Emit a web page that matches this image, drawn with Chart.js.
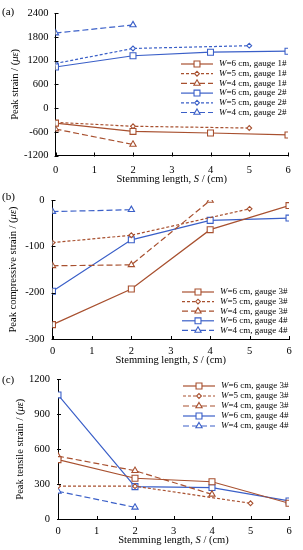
<!DOCTYPE html>
<html>
<head>
<meta charset="utf-8">
<script src="https://cdn.jsdelivr.net/npm/chart.js@4/dist/chart.umd.min.js"></script>
<style>
  body { margin: 0; background: #fff; }
  .panel { position: absolute; left: 0; }
  canvas { display: block; }
</style>
</head>
<body>
<div class="panel" style="top:0px"><canvas id="chartA" width="303" height="184"></canvas></div>
<div class="panel" style="top:184px"><canvas id="chartB" width="303" height="181"></canvas></div>
<div class="panel" style="top:365px"><canvas id="chartC" width="303" height="185"></canvas></div>
<script>
// ---- data ----
const stemming = [0, 1, 2, 3, 4, 5, 6];

// (a) peak strain
const aW6g1 = [{x:0,y:-380},{x:2,y:-590},{x:4,y:-630},{x:6,y:-680}];
const aW5g1 = [{x:0,y:-360},{x:2,y:-460},{x:5,y:-505}];
const aW4g1 = [{x:0,y:-530},{x:2,y:-920}];
const aW6g2 = [{x:0,y:1040},{x:2,y:1325},{x:4,y:1415},{x:6,y:1440}];
const aW5g2 = [{x:0,y:1130},{x:2,y:1510},{x:5,y:1580}];
const aW4g2 = [{x:0,y:1900},{x:2,y:2105}];
const aTicks = [-1200, -600, 0, 600, 1200, 1800, 2400];

// (b) peak compressive strain
const bW6g3 = [{x:0,y:-269},{x:2,y:-192},{x:4,y:-64},{x:6,y:-12}];
const bW5g3 = [{x:0,y:-92},{x:2,y:-76},{x:5,y:-19}];
const bW4g3 = [{x:0,y:-142},{x:2,y:-140},{x:4,y:-1}];
const bW6g4 = [{x:0,y:-197},{x:2,y:-86},{x:4,y:-44},{x:6,y:-39}];
const bW4g4 = [{x:0,y:-25},{x:2,y:-21}];
const bTicks = [-300, -200, -100, 0];

// (c) peak tensile strain
const cW6g3 = [{x:0,y:510},{x:2,y:350},{x:4,y:320},{x:6,y:135}];
const cW5g3 = [{x:0,y:282},{x:2,y:282},{x:5,y:135}];
const cW4g3 = [{x:0,y:540},{x:2,y:415},{x:4,y:212}];
const cW6g4 = [{x:0,y:1066},{x:2,y:278},{x:4,y:270},{x:6,y:155}];
const cW4g4 = [{x:0,y:238},{x:2,y:100}];
const cTicks = [0, 300, 600, 900, 1200];

const BROWN = '#a8502f';
const BLUE = '#3a5fc8';
const SERIF = '"Liberation Serif", "DejaVu Serif", serif';

function ds(label, data, color, style) {
  const dash = style.kind === 'solid' ? [] : style.kind === 'short' ? [3, 2] : [6, 3];
  return {
    label: label, data: data,
    borderColor: color, backgroundColor: '#fff',
    borderWidth: 1.2, borderDash: dash,
    pointStyle: style.point, pointRadius: style.r,
    pointBorderColor: color, pointBackgroundColor: '#fff', pointBorderWidth: 1.1,
    tension: 0, fill: false
  };
}
const SOLID = {kind: 'solid', point: 'rect', r: 4.2};
const SHORT = {kind: 'short', point: 'rectRot', r: 2.4};
const LONG = {kind: 'long', point: 'triangle', r: 3.6};

// draw a string made of [text, italic] runs
function richText(ctx, runs, x, y, size, align) {
  let total = 0;
  runs.forEach(r => { ctx.font = (r[1] ? 'italic ' : '') + size + 'px ' + SERIF; total += ctx.measureText(r[0]).width; });
  let cx = align === 'center' ? x - total / 2 : x;
  ctx.textAlign = 'left';
  ctx.textBaseline = 'middle';
  runs.forEach(r => {
    ctx.font = (r[1] ? 'italic ' : '') + size + 'px ' + SERIF;
    ctx.fillText(r[0], cx, y);
    cx += ctx.measureText(r[0]).width;
  });
}

const decor = {
  id: 'decor',
  afterDraw(chart, args, o) {
    const ctx = chart.ctx;
    const xs = chart.scales.x, ys = chart.scales.y;
    ctx.save();
    ctx.strokeStyle = '#000';
    ctx.lineWidth = 1;
    // tick marks crossing the axes
    ctx.beginPath();
    xs.ticks.forEach(t => {
      const px = Math.round(xs.getPixelForValue(t.value)) + 0.5;
      ctx.moveTo(px, ys.bottom - 3); ctx.lineTo(px, ys.bottom + 1);
    });
    ys.ticks.forEach(t => {
      const py = Math.round(ys.getPixelForValue(t.value)) + 0.5;
      ctx.moveTo(xs.left - 1, py); ctx.lineTo(xs.left + 3, py);
    });
    ctx.stroke();
    ctx.fillStyle = '#000';
    // panel letter
    ctx.font = '11px ' + SERIF;
    ctx.textAlign = 'left'; ctx.textBaseline = 'middle';
    ctx.fillText(o.letter, 2, o.letterY);
    // x title
    richText(ctx, [['Stemming length, ', false], ['S', true], [' / (cm)', false]],
      (xs.left + xs.right) / 2, o.xTitleY, 10.5, 'center');
    // y title
    ctx.save();
    ctx.translate(o.yTitleX, (ys.top + ys.bottom) / 2);
    ctx.rotate(-Math.PI / 2);
    richText(ctx, [[o.yTitle + ' / (', false], ['με', true], [')', false]], 0, 0, 10.5, 'center');
    ctx.restore();
    // legend
    chart.data.datasets.forEach((d, i) => {
      const y = o.legY + i * o.legStep;
      ctx.save();
      ctx.strokeStyle = d.borderColor;
      ctx.lineWidth = 1.2;
      ctx.setLineDash(d.borderDash);
      ctx.beginPath();
      ctx.moveTo(o.legX, y); ctx.lineTo(o.legX + 32, y);
      ctx.stroke();
      ctx.setLineDash([]);
      ctx.fillStyle = '#fff';
      ctx.lineWidth = 1.1;
      Chart.helpers.drawPoint(ctx, {pointStyle: d.pointStyle, radius: d.pointRadius, rotation: 0, borderWidth: 1.1}, o.legX + 16, y);
      ctx.restore();
      const m = d.label.match(/^W(=.*)$/);
      ctx.fillStyle = '#000';
      richText(ctx, [['W', true], [m[1], false]], o.legX + 38, y, 9, 'left');
    });
    ctx.restore();
  }
};

function makeChart(id, datasets, yMin, yMax, yTicks, lay, deco) {
  return new Chart(document.getElementById(id), {
    type: 'line',
    data: {datasets: datasets},
    options: {
      responsive: false, animation: false,
      layout: {padding: {top: lay.top, right: lay.right, left: 0, bottom: 0}},
      plugins: {legend: {display: false}, tooltip: {enabled: false}, decor: deco},
      scales: {
        x: {
          type: 'linear', min: 0, max: 6,
          afterBuildTicks: s => { s.ticks = stemming.map(v => ({value: v})); },
          afterFit: s => { s.height = lay.xh; },
          grid: {display: false, drawTicks: false},
          border: {display: true, color: '#000', width: 1},
          ticks: {padding: lay.xpad, color: '#000', font: {family: SERIF, size: 10.5},
                  callback: v => String(v)}
        },
        y: {
          type: 'linear', min: yMin, max: yMax,
          afterBuildTicks: s => { s.ticks = yTicks.map(v => ({value: v})); },
          afterFit: s => { s.width = lay.yw; },
          grid: {display: false, drawTicks: false},
          border: {display: true, color: '#000', width: 1},
          ticks: {padding: lay.ypad, color: '#000', font: {family: SERIF, size: 10.5},
                  callback: v => String(v)}
        }
      }
    },
    plugins: [decor]
  });
}

makeChart('chartA', [
  ds('W=6 cm, gauge 1#', aW6g1, BROWN, SOLID),
  ds('W=5 cm, gauge 1#', aW5g1, BROWN, SHORT),
  ds('W=4 cm, gauge 1#', aW4g1, BROWN, LONG),
  ds('W=6 cm, gauge 2#', aW6g2, BLUE, SOLID),
  ds('W=5 cm, gauge 2#', aW5g2, BLUE, SHORT),
  ds('W=4 cm, gauge 2#', aW4g2, BLUE, LONG)
], -1200, 2400, aTicks,
  {top: 11, right: 15, xh: 28.5, yw: 55.5, xpad: 8, ypad: 7},
  {letter: '(a)', letterY: 12, xTitleY: 179, yTitleX: 15, yTitle: 'Peak strain', legX: 181, legY: 64, legStep: 9.7});

makeChart('chartB', [
  ds('W=6 cm, gauge 3#', bW6g3, BROWN, SOLID),
  ds('W=5 cm, gauge 3#', bW5g3, BROWN, SHORT),
  ds('W=4 cm, gauge 3#', bW4g3, BROWN, LONG),
  ds('W=6 cm, gauge 4#', bW6g4, BLUE, SOLID),
  ds('W=4 cm, gauge 4#', bW4g4, BLUE, LONG)
], -300, 0, bTicks,
  {top: 16, right: 14, xh: 26, yw: 52.5, xpad: 6, ypad: 8},
  {letter: '(b)', letterY: 13, xTitleY: 176, yTitleX: 13, yTitle: 'Peak compressive strain', legX: 182, legY: 108, legStep: 9.6});

makeChart('chartC', [
  ds('W=6 cm, gauge 3#', cW6g3, BROWN, SOLID),
  ds('W=5 cm, gauge 3#', cW5g3, BROWN, SHORT),
  ds('W=4 cm, gauge 3#', cW4g3, BROWN, LONG),
  ds('W=6 cm, gauge 4#', cW6g4, BLUE, SOLID),
  ds('W=4 cm, gauge 4#', cW4g4, BLUE, LONG)
], 0, 1200, cTicks,
  {top: 14, right: 14, xh: 31, yw: 58, xpad: 6, ypad: 8},
  {letter: '(c)', letterY: 15, xTitleY: 175, yTitleX: 20, yTitle: 'Peak tensile strain', legX: 183, legY: 21, legStep: 10});
</script>
</body>
</html>
